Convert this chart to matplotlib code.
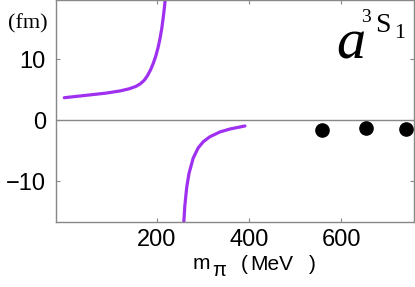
import matplotlib
matplotlib.use("Agg")
import matplotlib.pyplot as plt

# Data
upper_x = [0, 30, 60, 90, 120, 140, 155, 165, 173, 180, 187, 193, 198, 203, 207, 211, 214, 217, 220]
upper_y = [3.7, 3.95, 4.2, 4.45, 4.8, 5.15, 5.55, 6.0, 6.55, 7.3, 8.3, 9.4, 10.5, 11.9, 13.3, 15.0, 16.7, 18.6, 21.0]
lower_x = [258, 261, 265, 270, 279, 290, 301, 315, 337, 360, 391]
lower_y = [-17.5, -14.0, -11.0, -8.7, -6.2, -4.5, -3.5, -2.7, -1.9, -1.4, -0.93]
lattice_x = [558, 654, 739]
lattice_y = [-1.6, -1.3, -1.5]
xticks = [200, 400, 600]
yticks = [-10, 0, 10]

plt.rcParams['font.family'] = ['Liberation Sans', 'DejaVu Sans']

W, H = 415, 287
fig = plt.figure(figsize=(W / 100, H / 100), dpi=100)
ax = fig.add_axes([55.5 / W, 1 - 221.7 / H, (413.5 - 55.5) / W, 221.7 / H])

purple = '#a030f0'
ax.plot(upper_x, upper_y, color=purple, lw=2.3, solid_capstyle='round')
ax.plot(lower_x, lower_y, color=purple, lw=2.3, solid_capstyle='round')
ax.plot(lattice_x, lattice_y, 'o', color='black', ms=9.5, clip_on=False, zorder=5)
ax.axhline(0, color='#888888', lw=1.0)

ax.set_xlim(-19, 756)
ax.set_ylim(-16.6, 19.7)
ax.set_xticks(xticks)
ax.set_yticks(yticks)
gray = '#888888'
for s in ax.spines.values():
    s.set_color(gray)
    s.set_linewidth(1.0)
ax.tick_params(direction='in', length=3, width=0.8, color=gray,
               top=True, right=True, labelsize=17)
ax.tick_params(axis='x', pad=5.5)
ax.tick_params(axis='y', pad=7)

def px(x, y):
    return x / W, 1 - y / H

fig.text(*px(8, 28), '(fm)', family='Liberation Serif', fontsize=16,
         ha='left', va='baseline')

# x label: m_pi  ( MeV )
fig.text(*px(192.5, 269), 'm', fontsize=15, ha='left', va='baseline')
fig.text(*px(212.5, 276.5), 'π', fontsize=14.5, ha='left', va='baseline')
fig.text(*px(241, 270), '(', fontsize=15, ha='left', va='baseline')
fig.text(*px(250.5, 270), 'MeV', fontsize=15, ha='left', va='baseline')
fig.text(*px(309, 270), ')', fontsize=15, ha='left', va='baseline')

# a^{3}S_{1}
fig.text(*px(336, 58.3), 'a', family='Liberation Serif', style='italic',
         fontsize=42, ha='left', va='baseline')
fig.text(*px(361, 21.7), '3', family='Liberation Serif', fontsize=14,
         ha='left', va='baseline')
fig.text(*px(375.5, 31.7), 'S', family='Liberation Serif', fontsize=20,
         ha='left', va='baseline')
fig.text(*px(394.5, 38.3), '1', family='Liberation Serif', fontsize=16,
         ha='left', va='baseline')

fig.savefig('out.png', dpi=100)
